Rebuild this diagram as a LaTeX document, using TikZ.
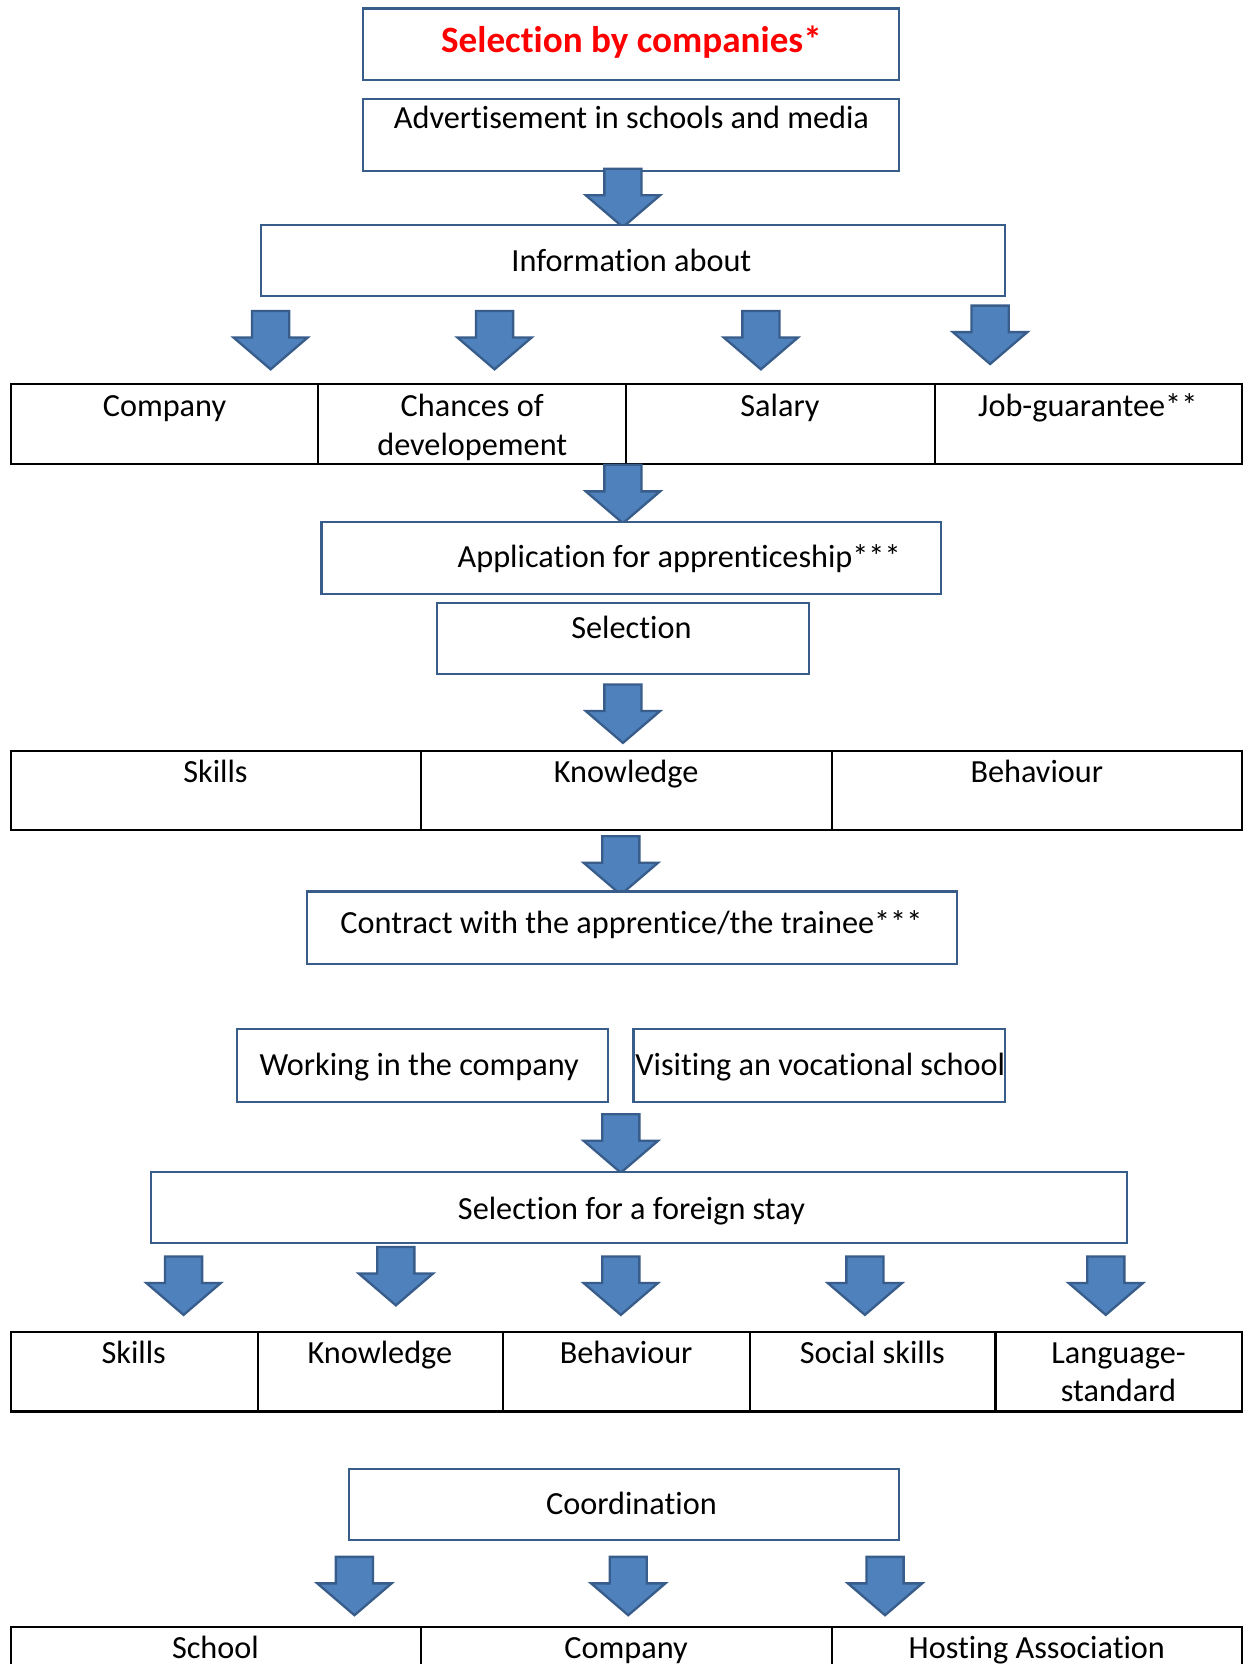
\documentclass[tikz,border=0pt]{standalone}
\usepackage{fontspec}
\setmainfont{Carlito}[Ligatures={NoCommon}]
\usetikzlibrary{fit}
\definecolor{boxblue}{RGB}{56,93,138}
\definecolor{arrowfill}{RGB}{79,129,189}
\definecolor{arrowline}{RGB}{56,93,138}
\tikzset{
  x=0.5pt, y=-0.5pt,
  box/.style={draw=boxblue, line width=1pt, fill=white, inner sep=0pt},
  tbl/.style={draw=black, line width=1pt, inner sep=0pt},
  txt/.style={font=\fontsize{15.2}{18}\selectfont, inner sep=0pt, anchor=mid},
  redtxt/.style={txt, font=\fontsize{17.5}{20}\selectfont\bfseries, text=red},
  barrow/.pic={\draw[fill=arrowfill, draw=arrowline, line width=1.1pt, line join=miter]
    (-17.5,0) -- (17.5,0) -- (17.5,25) -- (35,25) -- (0,55) -- (-35,25) -- (-17.5,25) -- cycle;}
}
\begin{document}
\begin{tikzpicture}
\useasboundingbox[fill=white] (0,0) rectangle (1176,1568);

% top boxes
\node[box, fit={(342,8) (847,75)}] (b1) {};
\node[redtxt] (t1) at (595,45) {Selection by companies*};
\node[box, fit={(342,93) (847,161)}] (b2) {};
\node[txt] (t2) at (595,116) {Advertisement in schools and media};
\pic at (587,159) {barrow};

\node[box, fit={(246,212) (947,279)}] (b3) {};
\node[txt] (t3) at (595,251) {Information about};
\pic at (255,293) {barrow};
\pic at (466,293) {barrow};
\pic at (717,293) {barrow};
\pic at (933,288) {barrow};

% row of four
\node[tbl, fit={(10,362) (1170,437)}] (r1) {};
\draw[line width=1pt] (300,362) -- (300,437) (590,362) -- (590,437) (881,362) -- (881,437);
\node[txt] (c11) at (155,388) {Company};
\node[txt] (c12) at (445,388) {Chances of};
\node[txt] (c12b) at (445,424) {developement};
\node[txt] (c13) at (735,388) {Salary};
\node[txt] (c14) at (1025,388) {Job-guarantee**};

\pic at (587,438) {barrow};
\node[box, fit={(303,492) (887,560)}] (b4) {};
\node[txt] (t4) at (640,530) {Application for apprenticeship***};
\node[box, fit={(412,568) (762,635)}] (b5) {};
\node[txt] (t5) at (595,597) {Selection};
\pic at (587,645) {barrow};

% row of three
\node[tbl, fit={(10,708) (1170,782)}] (r2) {};
\draw[line width=1pt] (397,708) -- (397,782) (784,708) -- (784,782);
\node[txt] (c21) at (203,733) {Skills};
\node[txt] (c22) at (590,733) {Knowledge};
\node[txt] (c23) at (977,733) {Behaviour};

\pic at (585,788) {barrow};
\node[box, fit={(289,840) (902,908)}] (b6) {};
\node[txt] (t6) at (595,875) {Contract with the apprentice/the trainee***};

\node[box, fit={(223,970) (573,1038)}] (b7) {};
\node[txt] (t7) at (395,1009) {Working in the company};
\node[box, fit={(597,970) (947,1038)}] (b8) {};
\node[txt] (t8) at (773,1009) {Visiting an vocational school};

\pic at (585,1050) {barrow};
\node[box, fit={(142,1104) (1062,1171)}] (b9) {};
\node[txt] (t9) at (595,1144) {Selection for a foreign stay};
\pic at (173,1184) {barrow};
\pic at (373,1175) {barrow};
\pic at (585,1184) {barrow};
\pic at (815,1184) {barrow};
\pic at (1042,1184) {barrow};

% row of five
\node[tbl, fit={(10,1255) (1170,1330)}] (r3) {};
\draw[line width=1pt] (243,1255) -- (243,1330) (474,1255) -- (474,1330) (707,1255) -- (707,1330) (938,1255) -- (938,1330);
\node[txt] (c31) at (126,1280) {Skills};
\node[txt] (c32) at (358,1280) {Knowledge};
\node[txt] (c33) at (590,1280) {Behaviour};
\node[txt] (c34) at (822,1280) {Social skills};
\node[txt] (c35) at (1054,1280) {Language-};
\node[txt] (c35b) at (1054,1316) {standard};

\node[box, fit={(329,1384) (847,1451)}] (b10) {};
\node[txt] (t10) at (595,1422) {Coordination};
\pic at (334,1467) {barrow};
\pic at (592,1467) {barrow};
\pic at (834,1467) {barrow};

% bottom row
\node[tbl, fit={(10,1533) (1170,1610)}] (r4) {};
\draw[line width=1pt] (397,1533) -- (397,1610) (784,1533) -- (784,1610);
\node[txt] (c41) at (203,1558) {School};
\node[txt] (c42) at (590,1558) {Company};
\node[txt] (c43) at (977,1558) {Hosting Association};
\end{tikzpicture}
\end{document}
